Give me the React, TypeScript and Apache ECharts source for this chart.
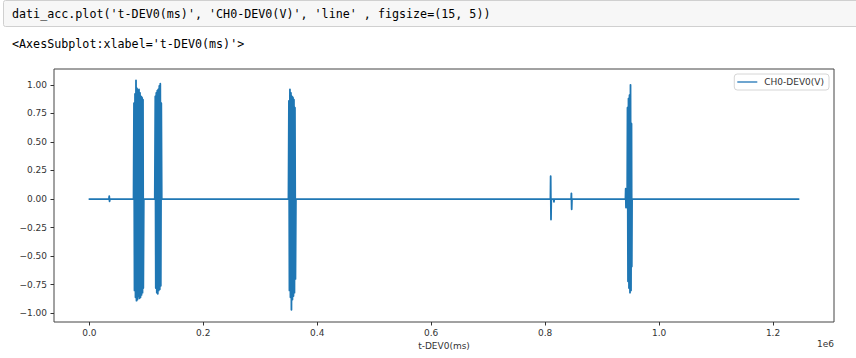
import React, { useEffect, useRef } from 'react';
import * as echarts from 'echarts';

const SERIES_NAME = 'CH0-DEV0(V)';
const X_NAME = 't-DEV0(ms)';
const X_TICKS = [0, 200000, 400000, 600000, 800000, 1000000, 1200000];
const Y_TICKS = [-1, -0.75, -0.5, -0.25, 0, 0.25, 0.5, 0.75, 1];
const X_MIN = -62000;
const X_MAX = 1307000;
const Y_MIN = -1.077;
const Y_MAX = 1.139;

type P = [number, number];

const quietStart: P[] = [[0, 0], [34400, 0], [35000, 0.025], [35500, -0.02], [36100, 0], [77600, 0]];
const burst1: P[] = [
  [78400, 0.84], [79300, -0.8], [80200, 0.92], [81050, -0.86], [81930, 1.04], [82810, -0.89],
  [83690, 0.97], [84560, -0.88], [85440, 0.95], [86320, -0.85], [87190, 0.96], [88070, -0.87],
  [88950, 0.93], [89830, -0.86], [90700, 0.9], [91580, -0.84], [92460, 0.89], [93330, -0.82],
  [94210, 0.87], [94740, -0.78],
];
const quietA: P[] = [[95600, 0], [114900, 0]];
const burst2: P[] = [
  [115790, 0.9], [116670, -0.78], [117540, 0.93], [118420, -0.82], [119300, 0.95], [120180, -0.83],
  [121050, 0.96], [121930, -0.8], [122810, 0.99], [123680, -0.79], [124560, 1.01], [125440, -0.76],
  [126320, 0.84],
];
const quietB: P[] = [[127100, 0], [349500, 0]];
const burst3: P[] = [
  [350350, 0.86], [351230, -0.8], [352110, 0.96], [352990, -0.86], [353860, 0.93], [354740, -0.97],
  [355620, 0.9], [356490, -0.88], [357370, 0.89], [358250, -0.85], [359130, 0.87], [360000, -0.82],
  [360880, 0.8], [361760, -0.7],
];
const quietC: P[] = [[362600, 0], [809300, 0]];
const spikeA: P[] = [[809700, 0.2], [810300, -0.18], [810800, 0], [815000, 0], [815500, -0.025], [816000, 0]];
const quietD: P[] = [[845700, 0]];
const spikeB: P[] = [[846100, 0.05], [846600, -0.09], [847100, 0]];
const quietE: P[] = [[941000, 0]];
const spikeC: P[] = [[941400, 0.09], [941900, -0.075], [942400, 0]];
const quietF: P[] = [[944000, 0]];
const burst4: P[] = [
  [944570, 0.8], [945450, -0.72], [946330, 0.88], [947200, -0.78], [948080, 0.91], [948960, -0.82],
  [949840, 1.0], [950710, -0.8], [951590, 0.66], [952100, -0.59],
];
const quietG: P[] = [[952600, 0], [1245000, 0]];

const SIGNAL: P[] = [
  ...quietStart, ...burst1, ...quietA, ...burst2, ...quietB, ...burst3, ...quietC,
  ...spikeA, ...quietD, ...spikeB, ...quietE, ...spikeC, ...quietF, ...burst4, ...quietG,
];

const SANS = 'DejaVu Sans';
const MONO = 'DejaVu Sans Mono';
const BLUE = '#1f77b4';

export default function App() {
  const ref = useRef<HTMLDivElement>(null);
  useEffect(() => {
    document.body.style.margin = '0';
    const chart = echarts.init(ref.current!, undefined, { renderer: 'svg' });
    const mono = (color: string) => ({ fontFamily: MONO, fontSize: 11.7, color });
    chart.setOption({
      animation: false,
      backgroundColor: '#fff',
      grid: {
        left: 54, top: 69, right: 22, bottom: 36,
        show: true, borderColor: '#444', borderWidth: 1, backgroundColor: '#fff',
      },
      xAxis: {
        type: 'value', min: X_MIN, max: X_MAX,
        name: X_NAME, nameLocation: 'middle', nameGap: 19.5,
        nameTextStyle: { fontFamily: SANS, fontSize: 9, color: '#333' },
        axisLine: { show: false, onZero: false }, splitLine: { show: false },
        axisTick: { show: true, length: 3.5, lineStyle: { color: '#333', width: 1 }, customValues: X_TICKS },
        axisLabel: {
          customValues: X_TICKS, margin: 6, color: '#333', fontSize: 9, fontFamily: SANS,
          formatter: (v: number) => (v / 1e6).toFixed(1),
        },
      },
      yAxis: {
        type: 'value', min: Y_MIN, max: Y_MAX,
        axisLine: { show: false, onZero: false }, splitLine: { show: false },
        axisTick: { show: true, length: 3.5, lineStyle: { color: '#333', width: 1 }, customValues: Y_TICKS },
        axisLabel: {
          customValues: Y_TICKS, margin: 7, color: '#333', fontSize: 9, fontFamily: SANS,
          formatter: (v: number) => v.toFixed(2).replace('-', '\u2212'),
        },
      },
      legend: {
        right: 27, top: 74, selectedMode: false,
        icon: 'rect', itemWidth: 20, itemHeight: 1.6,
        padding: [3.5, 5, 3.5, 3],
        borderColor: '#d6d6d6', borderWidth: 1, borderRadius: 3, backgroundColor: '#fff',
        textStyle: { fontFamily: SANS, fontSize: 9, color: '#333', padding: [0, 0, 0, 2] },
        data: [{ name: SERIES_NAME, itemStyle: { color: '#4a8fc4' } }],
      },
      graphic: [
        {
          type: 'rect', shape: { x: 3.5, y: 0.5, width: 870, height: 26, r: 2 },
          style: { fill: '#f7f7f7', stroke: '#d0d0d0', lineWidth: 1 },
        },
        {
          type: 'text', x: 12, y: 14,
          style: {
            text: "{t|dati_acc.plot(}{s|'t-DEV0(ms)'}{t|, }{s|'CH0-DEV0(V)'}{t|, }{s|'line'}{t| , figsize}{o|=}{t|(}{n|15}{t|, }{n|5}{t|))}",
            fontFamily: MONO, fontSize: 11.7, verticalAlign: 'middle',
            rich: { t: mono('#000'), s: mono('#ba2121'), o: mono('#aa22ff'), n: mono('#008000') },
          },
        },
        {
          type: 'text', x: 12, y: 44,
          style: {
            text: "<AxesSubplot:xlabel='t-DEV0(ms)'>", fontFamily: MONO, fontSize: 11.7,
            fill: '#000', verticalAlign: 'middle',
          },
        },
        {
          type: 'text', x: 834, y: 344,
          style: { text: '1e6', fontFamily: SANS, fontSize: 9, fill: '#333', align: 'right', verticalAlign: 'middle' },
        },
      ],
      series: [
        {
          type: 'line', name: SERIES_NAME, data: SIGNAL,
          showSymbol: false, symbol: 'none',
          lineStyle: { color: BLUE, width: 1.8, join: 'round', cap: 'round' },
          itemStyle: { color: BLUE },
        },
      ],
    });
    return () => chart.dispose();
  }, []);
  return <div ref={ref} style={{ width: 856, height: 358, position: 'absolute', left: 0, top: 0 }} />;
}
